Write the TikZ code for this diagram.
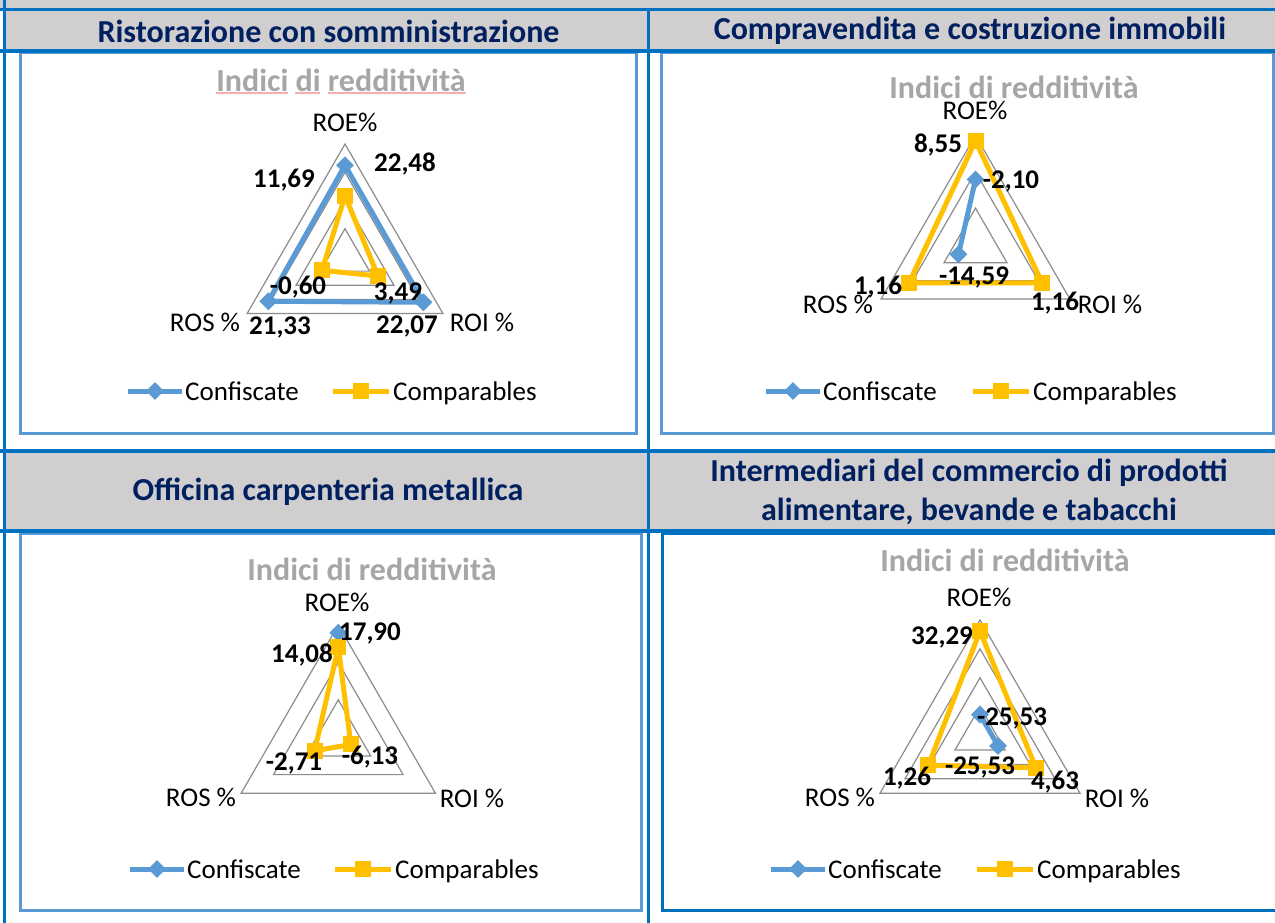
\documentclass[tikz,border=0pt]{standalone}
\usepackage{fontspec}
\setmainfont{Carlito}
\usetikzlibrary{shapes.geometric}
\definecolor{tblue}{HTML}{0070C0}
\definecolor{sblue}{HTML}{5B9BD5}
\definecolor{syel}{HTML}{FFC000}
\definecolor{hgrey}{HTML}{D0CECE}
\definecolor{navy}{HTML}{002060}
\definecolor{tgrey}{HTML}{A6A6A6}
\definecolor{ggrey}{HTML}{8C8C8C}
\definecolor{pinkline}{HTML}{F2AFAF}
\tikzset{
 tline/.style={draw=tblue, line width=3.5pt},
 hcell/.style={fill=hgrey, draw=none},
 htext/.style={font=\fontsize{32}{39}\selectfont\bfseries, text=navy, align=center},
 cbox/.style={draw=sblue, line width=3pt, fill=white},
 cboxd/.style={draw=tblue, line width=3pt, fill=white},
 ctitle/.style={font=\fontsize{32}{36}\selectfont\bfseries, text=tgrey},
 axlab/.style={font=\fontsize{27}{30}\selectfont, text=black},
 dlab/.style={font=\fontsize{27}{30}\selectfont\bfseries, text=black},
 leg/.style={font=\fontsize{27}{30}\selectfont, text=black, anchor=west, inner sep=0pt, text height=19pt, text depth=6pt},
 gridtri/.style={draw=ggrey, line width=1.2pt},
 bser/.style={draw=sblue, line width=5pt, line join=round},
 yser/.style={draw=syel, line width=5pt, line join=round},
 bmark/.style={diamond, fill=sblue, minimum width=18pt, minimum height=18pt, inner sep=0pt},
 ymark/.style={rectangle, fill=syel, minimum size=16pt, inner sep=0pt},
 pinkul/.style={draw=pinkline, line width=1.5pt},
}
\newcommand{\rv}[1]{{\Rr*((#1)-(\Rmin))/\Rspan}}
\newcommand{\radargrid}[1]{%
  \foreach \k in {1,...,#1} {
    \draw[gridtri] (90:{\Rr*\k/#1}) -- (-30:{\Rr*\k/#1}) -- (210:{\Rr*\k/#1}) -- cycle;
  }}
\begin{document}
\begin{tikzpicture}[x=1pt,y=-1pt]
\useasboundingbox (0,0) rectangle (1275,923);
\clip (0,0) rectangle (1275,923);
\fill[white] (0,0) rectangle (1275,923);
% header cells
\fill[hgrey] (0,0) rectangle (1275,9);
\fill[hgrey] (5,10) rectangle (1275,50);
\fill[hgrey] (5,452) rectangle (1275,530);
% chart boxes
\draw[cbox] (20,53) rectangle (636,433);
\draw[cbox] (661,53) rectangle (1273,433);
\draw[cbox] (20,533) rectangle (641,910);
\draw[cboxd] (662,533) rectangle (1290,910);
% table lines
\draw[tline] (0,9.5) -- (1275,9.5);
\draw[tline] (0,51) -- (1275,51);
\draw[tline] (0,451) -- (1275,451);
\draw[tline] (0,531) -- (1275,531);
\draw[tline] (4.5,0) -- (4.5,923);
\draw[tline] (648.5,9) -- (648.5,923);
% headers
\node[htext] (h1) at (328.5,31) {Ristorazione con somministrazione};
\node[htext] (h2) at (970,31) {Compravendita e costruzione immobili};
\node[htext] (h3) at (328,492) {Officina carpenteria metallica};
\node[htext] (h4) at (969,492) {Intermediari del commercio di prodotti\\alimentare, bevande e tabacchi};
% chart titles
\node[ctitle] (t1) at (341,80) {Indici di redditività};
\draw[pinkul] (216,93) -- (288,93);
\draw[pinkul] (295,93) -- (320,93);
\draw[pinkul] (328,93) -- (466,93);
\node[ctitle] (t2) at (1014,87) {Indici di redditività};
\node[ctitle] (t3) at (372,569) {Indici di redditività};
\node[ctitle] (t4) at (1005,560) {Indici di redditività};

% ===== Chart 1 =====
\def\Rr{113}\def\Rmin{-10}\def\Rspan{40}
\begin{scope}[shift={(345,257)},yscale=-1]
  \radargrid{4}
  \coordinate (c1bE) at (90:\rv{22.48});
  \coordinate (c1bI) at (-30:\rv{22.07});
  \coordinate (c1bS) at (210:\rv{21.33});
  \coordinate (c1yE) at (90:\rv{11.69});
  \coordinate (c1yI) at (-30:\rv{3.49});
  \coordinate (c1yS) at (210:\rv{-0.60});
\end{scope}
\draw[bser] (c1bE) -- (c1bI) -- (c1bS) -- cycle;
\node[bmark] (m1bE) at (c1bE) {};
\node[bmark] (m1bI) at (c1bI) {};
\node[bmark] (m1bS) at (c1bS) {};
\draw[yser] (c1yE) -- (c1yI) -- (c1yS) -- cycle;
\node[ymark] (m1yE) at (c1yE) {};
\node[ymark] (m1yI) at (c1yI) {};
\node[ymark] (m1yS) at (c1yS) {};
\node[axlab] (a1E) at (345,122) {ROE\%};
\node[axlab] (a1S) at (205,322) {ROS \%};
\node[axlab] (a1I) at (482,322) {ROI \%};
\node[dlab] (d1bE) at (405,164) {22,48};
\node[dlab] (d1yE) at (284,180) {11,69};
\node[dlab] (d1yS) at (298,287) {-0,60};
\node[dlab] (d1yI) at (398,293) {3,49};
\node[dlab] (d1bS) at (280,327) {21,33};
\node[dlab] (d1bI) at (407,326) {22,07};

% ===== Chart 2 =====
\def\Rr{109}\def\Rmin{-20}\def\Rspan{30}
\begin{scope}[shift={(975.5,244.5)},yscale=-1]
  \radargrid{3}
  \coordinate (c2bE) at (90:\rv{-2.10});
  \coordinate (c2bS) at (210:\rv{-14.59});
  \coordinate (c2yE) at (90:\rv{8.55});
  \coordinate (c2yI) at (-30:\rv{1.16});
  \coordinate (c2yS) at (210:\rv{1.16});
\end{scope}
\draw[bser] (c2bE) -- (c2bS);
\node[bmark] (m2bE) at (c2bE) {};
\node[bmark] (m2bS) at (c2bS) {};
\draw[yser] (c2yE) -- (c2yI) -- (c2yS) -- cycle;
\node[ymark] (m2yE) at (c2yE) {};
\node[ymark] (m2yI) at (c2yI) {};
\node[ymark] (m2yS) at (c2yS) {};
\node[axlab] (a2E) at (975,110) {ROE\%};
\node[axlab] (a2S) at (838,304) {ROS \%};
\node[axlab] (a2I) at (1110,304) {ROI \%};
\node[dlab] (d2yE) at (938,145) {8,55};
\node[dlab] (d2bE) at (1011,181) {-2,10};
\node[dlab] (d2bS) at (974,277) {-14,59};
\node[dlab] (d2yS) at (878,287) {1,16};
\node[dlab] (d2yI) at (1055,303) {1,16};

% ===== Chart 3 =====
\def\Rr{112.2}\def\Rmin{-10}\def\Rspan{30}
\begin{scope}[shift={(338.3,737.2)},yscale=-1]
  \radargrid{3}
  \coordinate (c3bE) at (90:\rv{17.90});
  \coordinate (c3yE) at (90:\rv{14.08});
  \coordinate (c3yI) at (-30:\rv{-6.13});
  \coordinate (c3yS) at (210:\rv{-2.71});
\end{scope}
\node[bmark] (m3bE) at (c3bE) {};
\draw[yser] (c3yE) -- (c3yI) -- (c3yS) -- cycle;
\node[ymark] (m3yE) at (c3yE) {};
\node[ymark] (m3yI) at (c3yI) {};
\node[ymark] (m3yS) at (c3yS) {};
\node[axlab] (a3E) at (337,602) {ROE\%};
\node[axlab] (a3S) at (201,797) {ROS \%};
\node[axlab] (a3I) at (472,798) {ROI \%};
\node[dlab] (d3bE) at (370,633) {17,90};
\node[dlab] (d3yE) at (302,655) {14,08};
\node[dlab] (d3yS) at (294,763) {-2,71};
\node[dlab] (d3yI) at (370,757) {-6,13};

% ===== Chart 4 =====
\def\Rr{115.5}\def\Rmin{-40}\def\Rspan{80}
\begin{scope}[shift={(980,735.5)},yscale=-1]
  \radargrid{4}
  \coordinate (c4bE) at (90:\rv{-25.53});
  \coordinate (c4bI) at (-30:\rv{-25.53});
  \coordinate (c4yE) at (90:\rv{32.29});
  \coordinate (c4yI) at (-30:\rv{4.63});
  \coordinate (c4yS) at (210:\rv{1.26});
\end{scope}
\draw[bser] (c4bE) -- (c4bI);
\node[bmark] (m4bE) at (c4bE) {};
\node[bmark] (m4bI) at (c4bI) {};
\draw[yser] (c4yE) -- (c4yI) -- (c4yS) -- cycle;
\node[ymark] (m4yE) at (c4yE) {};
\node[ymark] (m4yI) at (c4yI) {};
\node[ymark] (m4yS) at (c4yS) {};
\node[axlab] (a4E) at (979,597) {ROE\%};
\node[axlab] (a4S) at (840,797) {ROS \%};
\node[axlab] (a4I) at (1117,798) {ROI \%};
\node[dlab] (d4yE) at (942,637) {32,29};
\node[dlab] (d4bE) at (1012,718) {-25,53};
\node[dlab] (d4bI) at (980,767) {-25,53};
\node[dlab] (d4yS) at (907,778) {1,26};
\node[dlab] (d4yI) at (1055,782) {4,63};

% ===== Legends =====
\foreach \n/\bx/\yx/\ly in {1/128/333/391, 2/766/973/391, 3/130/335/869, 4/771/977/869} {
  \coordinate (lb\n a) at (\bx,\ly);
  \coordinate (lb\n b) at (\bx+54,\ly);
  \draw[bser] (lb\n a) -- (lb\n b);
  \node[bmark] (lbm\n) at (\bx+27,\ly) {};
  \node[leg] (lbt\n) at (\bx+57,\ly+3) {Confiscate};
  \coordinate (ly\n a) at (\yx,\ly);
  \coordinate (ly\n b) at (\yx+56,\ly);
  \draw[yser] (ly\n a) -- (ly\n b);
  \node[ymark] (lym\n) at (\yx+28,\ly) {};
  \node[leg] (lyt\n) at (\yx+60,\ly+3) {Comparables};
}
\end{tikzpicture}
\end{document}
